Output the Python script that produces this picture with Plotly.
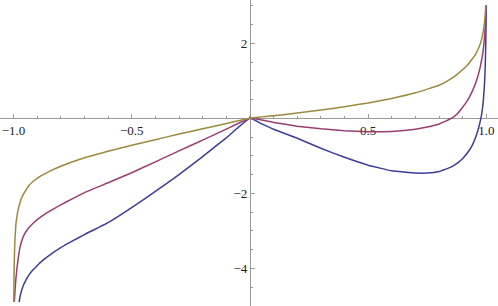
import plotly.graph_objects as go

# ---- data ----
gold_x = [-0.9985, -0.998, -0.997, -0.995, -0.993, -0.99, -0.985, -0.98, -0.97, -0.96, -0.95, -0.935, -0.92, -0.9, -0.88, -0.85,
          -0.8, -0.75, -0.7, -0.6, -0.5, -0.4, -0.3, -0.2, -0.1, 0.0,
          0.1, 0.2, 0.3, 0.4, 0.5, 0.6, 0.7, 0.8, 0.85, 0.88, 0.9, 0.92, 0.94, 0.955, 0.965, 0.975, 0.982, 0.987, 0.991, 0.994, 0.996, 0.997]
gold_y = [-4.9, -4.3, -3.9, -3.45, -3.15, -2.85, -2.6, -2.43, -2.2, -2.05, -1.94, -1.8, -1.70, -1.6, -1.52, -1.42,
          -1.28, -1.16, -1.05, -0.88, -0.72, -0.57, -0.42, -0.28, -0.14, 0.0,
          0.07, 0.14, 0.22, 0.31, 0.41, 0.53, 0.68, 0.88, 1.05, 1.19, 1.3, 1.42, 1.58, 1.72, 1.85, 2.0, 2.17, 2.33, 2.5, 2.7, 2.88, 3.02]

magenta_x = [-0.9965, -0.995, -0.993, -0.99, -0.987, -0.983, -0.977, -0.97, -0.96, -0.95, -0.935, -0.92, -0.9, -0.87, -0.84,
             -0.8, -0.75, -0.7, -0.6, -0.5, -0.4, -0.3, -0.2, -0.1, 0.0,
             0.1, 0.2, 0.3, 0.4, 0.5, 0.6, 0.7, 0.75, 0.8, 0.83, 0.86, 0.88, 0.9, 0.92, 0.94, 0.955, 0.965, 0.975, 0.982, 0.987, 0.991, 0.994, 0.996, 0.998]
magenta_y = [-4.9, -4.75, -4.55, -4.3, -4.1, -3.88, -3.6, -3.38, -3.18, -3.05, -2.92, -2.82, -2.7, -2.57, -2.45,
             -2.31, -2.14, -1.98, -1.72, -1.45, -1.16, -0.87, -0.58, -0.29, 0.0,
             -0.11, -0.21, -0.28, -0.33, -0.36, -0.35, -0.29, -0.23, -0.15, -0.07, 0.03, 0.14, 0.3, 0.48, 0.72, 0.95, 1.15, 1.4, 1.63, 1.85, 2.08, 2.33, 2.58, 3.02]

blue_x = [-0.976, -0.972, -0.966, -0.958, -0.948, -0.935, -0.92, -0.9, -0.88, -0.85, -0.8, -0.75, -0.7, -0.6, -0.5, -0.4, -0.3, -0.2, -0.1, 0.0,
          0.05, 0.1, 0.2, 0.3, 0.4, 0.5, 0.6, 0.7, 0.75, 0.8, 0.85, 0.88, 0.9, 0.92, 0.94, 0.955, 0.965, 0.975, 0.982, 0.987, 0.991, 0.994, 0.996, 0.9975, 0.9988, 0.9995]
blue_y = [-4.9, -4.75, -4.6, -4.45, -4.32, -4.18, -4.06, -3.93, -3.81, -3.66, -3.45, -3.27, -3.1, -2.78, -2.38, -1.95, -1.5, -1.02, -0.52, 0.0,
          -0.15, -0.29, -0.53, -0.80, -1.04, -1.25, -1.40, -1.46, -1.46, -1.42, -1.3, -1.18, -1.07, -0.92, -0.72, -0.5, -0.3, -0.05, 0.2, 0.48, 0.82, 1.2, 1.62, 2.1, 2.6, 3.02]

x_tick_vals = [-1.0, -0.5, 0.5, 1.0]
x_tick_text = ["\u22121.0", "\u22120.5", "0.5", "1.0"]
y_tick_vals = [-4, -2, 2]
y_tick_text = ["\u22124", "\u22122", "2"]

x_range = [-1.057, 1.049]
y_range = [-5.005, 3.155]

GOLD = "#998b3d"
MAGENTA = "#993d71"
BLUE = "#3d3d99"
AXIS = "#999999"

fig = go.Figure()
for xs, ys, col in [(blue_x, blue_y, BLUE), (magenta_x, magenta_y, MAGENTA), (gold_x, gold_y, GOLD)]:
    fig.add_trace(go.Scatter(x=xs, y=ys, mode="lines",
                             line=dict(color=col, width=1.5, shape="spline", smoothing=0.3),
                             showlegend=False, hoverinfo="skip"))

xpos = (0 - y_range[0]) / (y_range[1] - y_range[0])
ypos = (0 - x_range[0]) / (x_range[1] - x_range[0])

font = dict(family="Liberation Serif, Times New Roman, serif", size=13, color="#222222")

fig.update_layout(
    width=498, height=306,
    margin=dict(l=0, r=0, t=0, b=0, pad=0),
    paper_bgcolor="white", plot_bgcolor="white",
    xaxis=dict(range=x_range, anchor="free", position=xpos, side="bottom", automargin=False,
               showgrid=False, zeroline=False, showline=True, linecolor=AXIS, linewidth=1,
               tickmode="array", tickvals=x_tick_vals, ticktext=x_tick_text,
               ticks="inside", ticklen=4, tickcolor=AXIS, tickwidth=1,
               minor=dict(tick0=0, dtick=0.1, ticks="inside", ticklen=2.5, tickcolor=AXIS, showgrid=False),
               tickfont=font, layer="below traces", fixedrange=True),
    yaxis=dict(range=y_range, anchor="free", position=ypos, side="left", automargin=False,
               showgrid=False, zeroline=False, showline=True, linecolor=AXIS, linewidth=1,
               tickmode="array", tickvals=y_tick_vals, ticktext=y_tick_text,
               ticks="inside", ticklen=4, tickcolor=AXIS, tickwidth=1,
               minor=dict(tick0=0, dtick=0.5, ticks="inside", ticklen=2.5, tickcolor=AXIS, showgrid=False),
               tickfont=font, layer="below traces", fixedrange=True),
)

fig.write_html("out.html", config={"displayModeBar": False},
               post_script="document.body.style.margin='0';document.body.style.padding='0';")
